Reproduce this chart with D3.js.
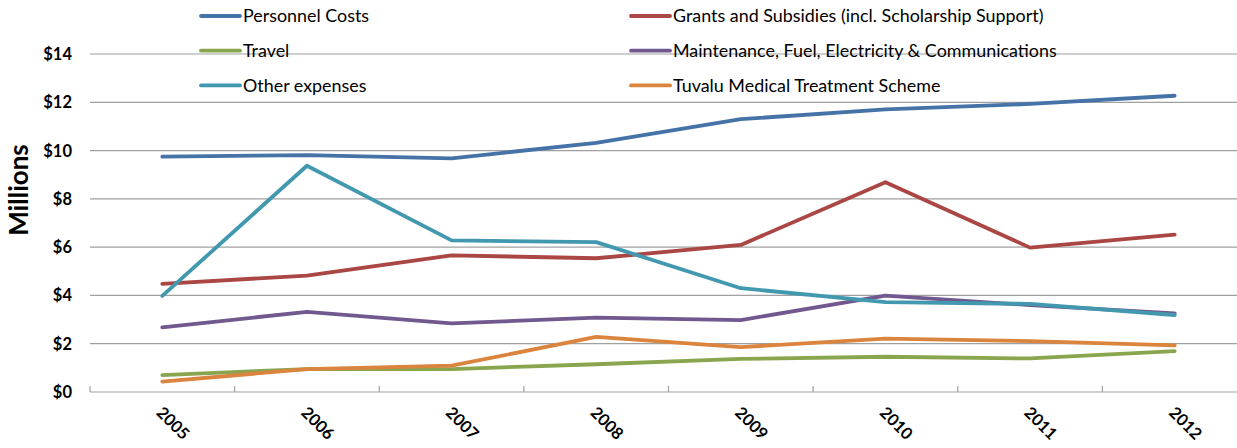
<!DOCTYPE html>
<html>
<head>
<meta charset="utf-8">
<script src="https://cdn.jsdelivr.net/npm/d3@7"></script>
<style>
  html, body { margin: 0; padding: 0; background: #fff; }
  svg { display: block; font-family: Lato, "Open Sans", sans-serif; }
</style>
</head>
<body>
<svg id="chart" width="1237" height="448"></svg>
<script>
// Expenditure by category, millions of dollars
const years = ["2005", "2006", "2007", "2008", "2009", "2010", "2011", "2012"];
const personnel   = [9.75, 9.81, 9.68, 10.32, 11.30, 11.71, 11.93, 12.27];
const grants      = [4.48, 4.82, 5.66, 5.54, 6.09, 8.69, 5.98, 6.52];
const travel      = [0.70, 0.95, 0.95, 1.15, 1.37, 1.46, 1.39, 1.69];
const maintenance = [2.68, 3.32, 2.84, 3.08, 2.98, 3.99, 3.60, 3.26];
const other       = [3.98, 9.37, 6.28, 6.21, 4.30, 3.72, 3.65, 3.19];
const medical     = [0.43, 0.95, 1.09, 2.28, 1.86, 2.21, 2.11, 1.93];
const yTicks = [0, 2, 4, 6, 8, 10, 12, 14];

const series = [
  { name: "Personnel Costs", values: personnel, color: "#4572A7" },
  { name: "Grants and Subsidies (incl. Scholarship Support)", values: grants, color: "#AA4643" },
  { name: "Travel", values: travel, color: "#89A54E" },
  { name: "Maintenance, Fuel, Electricity & Communications", values: maintenance, color: "#71588F" },
  { name: "Other expenses", values: other, color: "#4198AF" },
  { name: "Tuvalu Medical Treatment Scheme", values: medical, color: "#DB843D" }
];

const svg = d3.select("#chart");
const plotLeft = 90, plotRight = 1247, plotTop = 54, plotBottom = 392;

const x = d3.scaleBand().domain(years).range([plotLeft, plotRight]);
const y = d3.scaleLinear().domain([0, 14]).range([plotBottom, plotTop]);

// horizontal gridlines
svg.append("g")
  .selectAll("line")
  .data(yTicks.filter(d => d > 0))
  .join("line")
  .attr("x1", plotLeft).attr("x2", 1237)
  .attr("y1", d => y(d)).attr("y2", d => y(d))
  .attr("stroke", "#a0a0a0").attr("stroke-width", 1.2);

// y axis labels
svg.append("g")
  .selectAll("text")
  .data(yTicks)
  .join("text")
  .attr("x", 72).attr("y", d => y(d))
  .attr("dy", "0.36em")
  .attr("text-anchor", "end")
  .attr("font-size", 16.5).attr("font-weight", "bold").attr("fill", "#000")
  .text(d => "$" + d);

// x axis with ticks between categories
const xAxis = svg.append("g");
xAxis.append("line")
  .attr("x1", plotLeft).attr("x2", 1237)
  .attr("y1", plotBottom).attr("y2", plotBottom)
  .attr("stroke", "#a0a0a0").attr("stroke-width", 1.2);
xAxis.selectAll("line.tick")
  .data(years)
  .join("line")
  .attr("class", "tick")
  .attr("x1", d => x(d)).attr("x2", d => x(d))
  .attr("y1", plotBottom).attr("y2", plotBottom - 6)
  .attr("stroke", "#a0a0a0").attr("stroke-width", 1.2);
xAxis.selectAll("text")
  .data(years)
  .join("text")
  .attr("transform", d => `translate(${x(d) + x.bandwidth() / 2 + 2},${plotBottom + 13}) rotate(45)`)
  .attr("dy", "0.75em")
  .attr("font-size", 16.5).attr("font-weight", "bold").attr("fill", "#000")
  .text(d => d);

// axis title
svg.append("text")
  .attr("transform", `translate(${28},${190}) rotate(-90)`)
  .attr("text-anchor", "middle")
  .attr("font-size", 26).attr("font-weight", "bold").attr("fill", "#000")
  .text("Millions");

// lines
const line = d3.line()
  .x((d, i) => x(years[i]) + x.bandwidth() / 2)
  .y(d => y(d));

svg.append("g")
  .selectAll("path")
  .data(series)
  .join("path")
  .attr("d", s => line(s.values))
  .attr("fill", "none")
  .attr("stroke", s => s.color)
  .attr("stroke-width", 3.8)
  .attr("stroke-linejoin", "round")
  .attr("stroke-linecap", "round");

// legend: two columns, three rows
const legend = svg.append("g");
const legendItems = legend.selectAll("g")
  .data(series)
  .join("g")
  .attr("transform", (s, i) => `translate(${i % 2 === 0 ? 201 : 631},${16 + Math.floor(i / 2) * 34.7})`);
legendItems.append("line")
  .attr("x1", 0).attr("x2", 39)
  .attr("stroke", s => s.color).attr("stroke-width", 3.8)
  .attr("stroke-linecap", "round");
legendItems.append("text")
  .attr("x", 42).attr("dy", "0.36em")
  .attr("font-size", 17.9).attr("fill", "#000")
  .text(s => s.name);
</script>
</body>
</html>
